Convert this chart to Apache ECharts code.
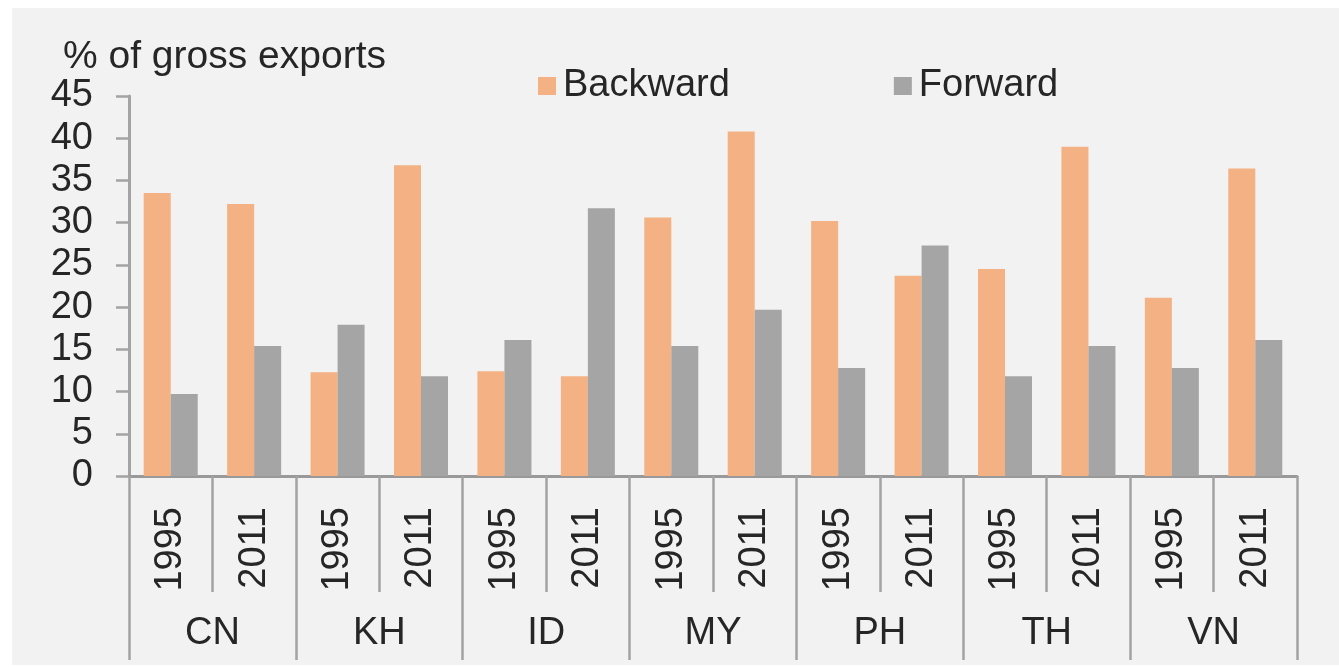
<!DOCTYPE html>
<html>
<head>
<meta charset="utf-8">
<script src="https://cdn.jsdelivr.net/npm/echarts@6/dist/echarts.min.js"></script>
<style>
html,body{margin:0;padding:0;background:#ffffff;}
#chart{width:1339px;height:667px;}
</style>
</head>
<body>
<div id="chart"></div>
<script>
const countries = ['CN', 'KH', 'ID', 'MY', 'PH', 'TH', 'VN'];
const years = ['1995', '2011'];
const backward = [33.5, 32.2, 12.3, 36.8, 12.4, 11.8, 30.6, 40.8, 30.2, 23.7, 24.5, 39.0, 21.1, 36.4];
const forward  = [9.7, 15.4, 17.9, 11.8, 16.1, 31.7, 15.4, 19.7, 12.8, 27.3, 11.8, 15.4, 12.8, 16.1];
const yTicks = [0, 5, 10, 15, 20, 25, 30, 35, 40, 45];
const yTitle = '% of gross exports';

const yearCats = [];
countries.forEach(function () { years.forEach(function (y) { yearCats.push(y); }); });

const FONT = '"Liberation Sans", Arial, sans-serif';
const TXT = '#262626';
const AX = '#A3A3A3';

const chart = echarts.init(document.getElementById('chart'), null, {renderer: 'canvas'});
chart.setOption({
  animation: false,
  textStyle: {fontFamily: FONT},
  graphic: [{
    type: 'rect', left: 12, top: 8, z: -10, silent: true,
    shape: {width: 1327, height: 657},
    style: {fill: '#F2F2F2'}
  }],
  title: {
    text: yTitle, left: 58, top: 33,
    textStyle: {fontFamily: FONT, fontSize: 39, fontWeight: 'normal', color: TXT}
  },
  legend: {
    left: 533, top: 62, itemWidth: 18, itemHeight: 18, itemGap: 164,
    icon: 'rect',
    textStyle: {fontFamily: FONT, fontSize: 38, color: TXT, padding: [0, 0, 0, 2]},
    data: ['Backward', 'Forward']
  },
  grid: {left: 129, right: 42, top: 96, bottom: 191, containLabel: false},
  xAxis: [{
    type: 'category', data: yearCats, position: 'bottom',
    axisLine: {show: true, lineStyle: {color: '#999999', width: 3}},
    axisTick: {show: true, interval: 0, length: 116, lineStyle: {color: AX, width: 2.5}},
    axisLabel: {interval: 0, rotate: 90, margin: 31, fontSize: 38, color: TXT, fontFamily: FONT}
  }, {
    type: 'category', data: countries, position: 'bottom',
    axisLine: {show: false},
    axisTick: {show: true, interval: 0, length: 184, lineStyle: {color: AX, width: 2.5}},
    axisLabel: {interval: 0, margin: 139, fontSize: 38, color: TXT, fontFamily: FONT}
  }],
  yAxis: {
    type: 'value', min: yTicks[0], max: yTicks[yTicks.length - 1], interval: yTicks[1] - yTicks[0],
    axisLine: {show: true, lineStyle: {color: AX, width: 3}},
    axisTick: {show: true, length: 13, lineStyle: {color: AX, width: 2.5}},
    splitLine: {show: false},
    axisLabel: {margin: 36, fontSize: 38, color: TXT, fontFamily: FONT}
  },
  series: [{
    name: 'Backward', type: 'bar', xAxisIndex: 0, data: backward,
    barWidth: 27, barGap: '0%',
    itemStyle: {color: '#F4B183'}
  }, {
    name: 'Forward', type: 'bar', xAxisIndex: 0, data: forward,
    barWidth: 27, barGap: '0%',
    itemStyle: {color: '#A5A5A5'}
  }]
});
</script>
</body>
</html>
